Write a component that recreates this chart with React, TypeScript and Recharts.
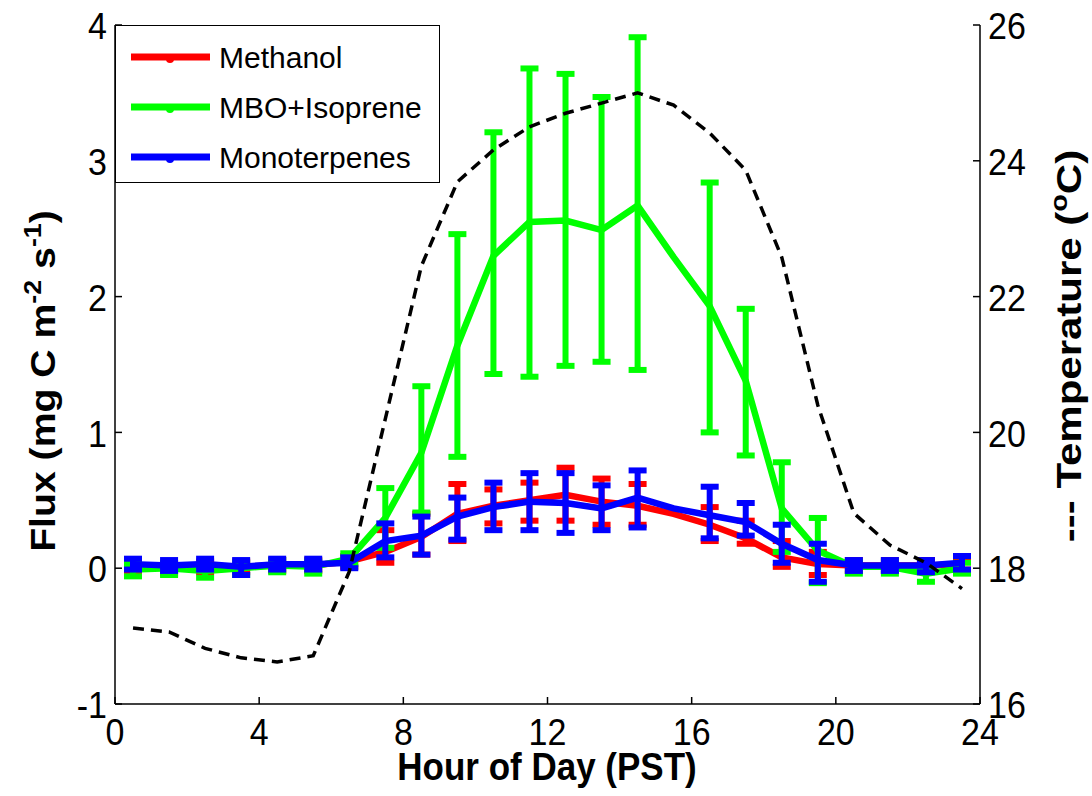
import React from "react";
import { ComposedChart, Line, XAxis, YAxis, ErrorBar, Legend, Label } from "recharts";

const font = "'Liberation Sans', Arial, sans-serif";

const hours = [0.5, 1.5, 2.5, 3.5, 4.5, 5.5, 6.5, 7.5, 8.5, 9.5, 10.5, 11.5, 12.5, 13.5, 14.5, 15.5, 16.5, 17.5, 18.5, 19.5, 20.5, 21.5, 22.5, 23.5];

const methanol = [0.02, 0.0, 0.01, 0.01, 0.02, 0.02, 0.05, 0.12, 0.23, 0.4, 0.46, 0.5, 0.54, 0.49, 0.46, 0.4, 0.32, 0.22, 0.08, 0.03, 0.02, 0.02, 0.02, 0.03];
const methanolLow = [-0.02, -0.04, -0.03, -0.03, -0.02, -0.02, 0.01, 0.04, 0.1, 0.2, 0.33, 0.35, 0.35, 0.32, 0.32, null, 0.2, 0.18, 0.01, -0.05, -0.02, -0.02, -0.02, -0.01];
const methanolHigh = [0.06, 0.04, 0.05, 0.05, 0.06, 0.06, 0.09, 0.28, 0.4, 0.62, 0.58, 0.63, 0.74, 0.66, 0.62, null, 0.45, 0.35, 0.2, 0.12, 0.06, 0.06, 0.06, 0.07];

const mbo = [-0.01, 0.0, -0.02, 0.0, 0.02, 0.01, 0.07, 0.37, 0.85, 1.64, 2.3, 2.55, 2.56, 2.49, 2.67, 2.29, 1.93, 1.38, 0.44, 0.13, 0.01, 0.01, -0.04, 0.0];
const mboLow = [-0.06, -0.05, -0.07, -0.05, -0.03, -0.04, 0.03, 0.15, 0.41, 0.82, 1.43, 1.41, 1.49, 1.52, 1.46, null, 1.0, 0.83, 0.12, -0.11, -0.04, -0.04, -0.1, -0.04];
const mboHigh = [0.03, 0.04, 0.02, 0.04, 0.06, 0.05, 0.11, 0.59, 1.34, 2.46, 3.21, 3.68, 3.64, 3.47, 3.91, null, 2.84, 1.91, 0.78, 0.37, 0.05, 0.05, 0.0, 0.04];

const mono = [0.03, 0.02, 0.03, 0.01, 0.03, 0.03, 0.04, 0.2, 0.24, 0.38, 0.45, 0.49, 0.48, 0.44, 0.52, 0.44, 0.39, 0.34, 0.18, 0.06, 0.02, 0.02, 0.02, 0.04];
const monoLow = [-0.01, -0.02, -0.01, -0.05, -0.01, -0.01, 0.0, 0.08, 0.1, 0.21, 0.28, 0.28, 0.26, 0.28, 0.3, null, 0.22, 0.24, 0.04, -0.1, -0.02, -0.02, -0.03, -0.01];
const monoHigh = [0.07, 0.06, 0.07, 0.06, 0.07, 0.07, 0.08, 0.33, 0.38, 0.52, 0.63, 0.7, 0.7, 0.61, 0.72, null, 0.6, 0.48, 0.32, 0.18, 0.06, 0.06, 0.06, 0.09];

const temperature = [17.12, 17.06, 16.82, 16.68, 16.62, 16.71, 17.95, 20.2, 22.45, 23.69, 24.16, 24.5, 24.7, 24.85, 25.0, 24.82, 24.41, 23.86, 22.58, 20.4, 18.81, 18.34, 18.08, 17.7];

const hourTicks = [0, 4, 8, 12, 16, 20, 24];
const fluxTicks = [-1, 0, 1, 2, 3, 4];
const tempTicks = [16, 18, 20, 22, 24, 26];

const series = [
  { key: "methanol", name: "Methanol", color: "#ff0000" },
  { key: "mbo", name: "MBO+Isoprene", color: "#00ff00" },
  { key: "mono", name: "Monoterpenes", color: "#0000ff" },
];

const err = (v: number, lo: number | null, hi: number | null) => (lo == null || hi == null ? null : [v - lo, hi - v]);

const data = hours.map((hour, i) => ({
  hour,
  methanol: methanol[i],
  methanolErr: err(methanol[i], methanolLow[i], methanolHigh[i]),
  mbo: mbo[i],
  mboErr: err(mbo[i], mboLow[i], mboHigh[i]),
  mono: mono[i],
  monoErr: err(mono[i], monoLow[i], monoHigh[i]),
  temperature: temperature[i],
}));

const axisLine = { stroke: "#000", strokeWidth: 1.5 };

// the source figure is a bit stretched vertically, so text gets a small y scale
function Tick({ x, y, payload, textAnchor, dy }: any) {
  return (
    <text transform={`translate(${x},${y}) scale(1,1.09)`} textAnchor={textAnchor} dy={dy} fontSize={34} fontFamily={font} fill="#000">
      {payload.value}
    </text>
  );
}

function LegendBox() {
  return (
    <div style={{ width: 325, height: 158, border: "1.5px solid #000", background: "#fff", boxSizing: "border-box" }}>
      <svg width={322} height={155} style={{ display: "block" }}>
        {series.map((s, i) => (
          <g key={s.key}>
            <line x1={15} x2={94} y1={31 + i * 50} y2={31 + i * 50} stroke={s.color} strokeWidth={7} />
            <circle cx={54} cy={33 + i * 50} r={4} fill={s.color} />
            <text x={103} y={42 + i * 50} fontSize={30} fontFamily={font} fill="#000">{s.name}</text>
          </g>
        ))}
      </svg>
    </div>
  );
}

export default function App() {
  return (
    <div style={{ position: "absolute", left: 0, top: 0, background: "#fff" }}>
      <ComposedChart width={1092} height={796} data={data} margin={{ top: 25, right: 0, bottom: 0, left: 0 }}>
        <XAxis xAxisId="top" orientation="top" type="number" dataKey="hour" domain={[0, 24]} ticks={hourTicks} height={0} tickSize={-7} tickFormatter={() => ""} axisLine={axisLine} tickLine={axisLine} />
        <XAxis type="number" dataKey="hour" domain={[0, 24]} ticks={hourTicks} height={92} tickSize={-7} tickMargin={22} tick={(p: any) => <Tick {...p} textAnchor="middle" dy={24} />} axisLine={axisLine} tickLine={axisLine}>
          <Label
            content={() => (
              <text transform="translate(547, 780) scale(1,1.09)" textAnchor="middle" fontSize={35} fontWeight="bold" fontFamily={font} fill="#000">
                Hour of Day (PST)
              </text>
            )}
          />
        </XAxis>
        <YAxis yAxisId="flux" domain={[-1, 4]} ticks={fluxTicks} width={115} tickSize={-7} tickMargin={15} tick={(p: any) => <Tick {...p} textAnchor="end" dy={13} />} axisLine={axisLine} tickLine={axisLine}>
          <Label
            content={() => (
              <text transform="translate(55, 381) rotate(-90) scale(1.12,1)" textAnchor="middle" fontSize={35} fontWeight="bold" fontFamily={font} fill="#000">
                Flux (mg C m<tspan dy={-14} fontSize={24}>-2</tspan>
                <tspan dy={14}> s</tspan>
                <tspan dy={-14} fontSize={24}>-1</tspan>
                <tspan dy={14}>)</tspan>
              </text>
            )}
          />
        </YAxis>
        <YAxis yAxisId="temp" orientation="right" domain={[16, 26]} ticks={tempTicks} width={112} tickSize={-7} tickMargin={15} tick={(p: any) => <Tick {...p} textAnchor="start" dy={13} />} axisLine={axisLine} tickLine={axisLine}>
          <Label
            content={() => (
              <text transform="translate(1081, 346) rotate(-90) scale(1.2,1)" textAnchor="middle" fontSize={35} fontWeight="bold" fontFamily={font} fill="#000">
                --- Temperature (<tspan dy={-14} fontSize={24}>o</tspan>
                <tspan dy={14}>C)</tspan>
              </text>
            )}
          />
        </YAxis>
        <Legend verticalAlign="middle" wrapperStyle={{ position: "absolute", left: 115, top: 25, width: 325, height: 158 }} content={() => <LegendBox />} />
        {series.map((s) => (
          <Line key={s.key} yAxisId="flux" dataKey={s.key} name={s.name} type="linear" stroke={s.color} strokeWidth={6.5} dot={false} activeDot={false} isAnimationActive={false}>
            <ErrorBar dataKey={`${s.key}Err`} direction="y" width={9} stroke={s.color} strokeWidth={6} isAnimationActive={false} />
          </Line>
        ))}
        <Line yAxisId="temp" dataKey="temperature" name="Temperature" type="linear" stroke="#000" strokeWidth={3.5} strokeDasharray="11 7" dot={false} activeDot={false} legendType="none" isAnimationActive={false} />
      </ComposedChart>
    </div>
  );
}
